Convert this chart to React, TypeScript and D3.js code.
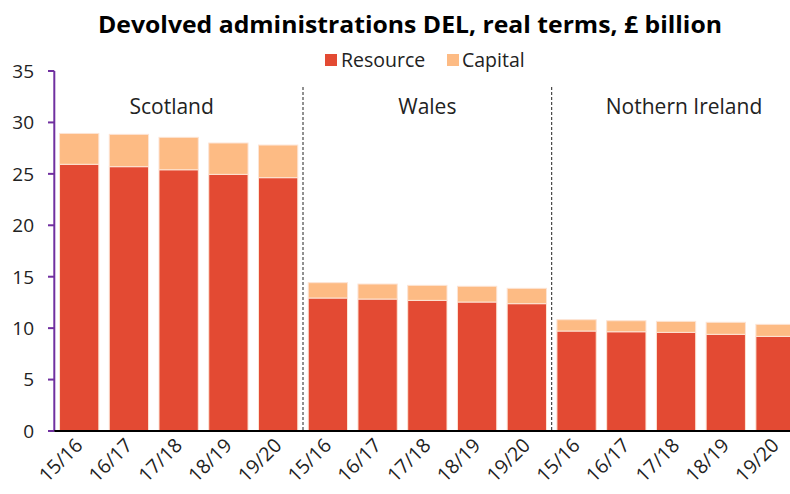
import React from "react";
import * as d3 from "d3";

const years = ["15/16", "16/17", "17/18", "18/19", "19/20"];
const regions = ["Scotland", "Wales", "Nothern Ireland"];
const resource = [25.93, 25.7, 25.4, 24.95, 24.63, 12.93, 12.83, 12.7, 12.54, 12.38, 9.72, 9.65, 9.59, 9.4, 9.2];
const capital = [3.0, 3.14, 3.15, 3.05, 3.17, 1.49, 1.46, 1.46, 1.53, 1.49, 1.1, 1.07, 1.07, 1.17, 1.17];
const yTicks = [0, 5, 10, 15, 20, 25, 30, 35];
const seriesNames = ["Resource", "Capital"];

const W = 790;
const H = 494;
const FONT = "'Open Sans', 'Noto Sans', sans-serif";
const COLORS = ["#E34A33", "#FDBB84"];

export default function App() {
  const idx = d3.range(resource.length);
  const x = d3
    .scaleBand<number>()
    .domain(idx)
    .range([54.3, 800.4])
    .paddingInner(0.21)
    .paddingOuter(0.105);
  const y = d3.scaleLinear().domain([0, 35]).range([431, 71]);
  const bw = x.bandwidth();
  const stack = d3.stack<number>().keys(["r", "c"]).value((i, k) => (k === "r" ? resource[i] : capital[i]));
  const series = stack(idx);
  const labelOffsets = [-7, 0, 8];

  return (
    <svg width={W} height={H} style={{ position: "absolute", left: 0, top: 0, background: "#fff" }} fontFamily={FONT}>
      <text x={410} y={33} textAnchor="middle" fontWeight="bold" fontSize={24} fill="#000" textLength={624} lengthAdjust="spacingAndGlyphs">
        Devolved administrations DEL, real terms, £ billion
      </text>
      {/* legend */}
      <g>
        <rect x={325} y={54} width={12} height={12} fill={COLORS[0]} />
        <text x={341} y={67} fontSize={19.5} fill="#222">{seriesNames[0]}</text>
        <rect x={447} y={54} width={12} height={12} fill={COLORS[1]} />
        <text x={462} y={67} fontSize={19.5} fill="#222">{seriesNames[1]}</text>
      </g>
      {/* bars */}
      {series.map((s, si) =>
        s.map((d, i) => (
          <rect
            key={`${si}-${i}`}
            x={x(i)}
            y={y(d[1])}
            width={bw}
            height={y(d[0]) - y(d[1])}
            fill={COLORS[si]}
            stroke="#fde4d4"
            strokeWidth={1}
          />
        ))
      )}
      {/* separators */}
      {[1, 2].map((g) => {
        const sx = ((x(g * 5 - 1) as number) + bw + (x(g * 5) as number)) / 2;
        return <line key={g} x1={sx} x2={sx} y1={87} y2={431} stroke="#222" strokeWidth={1} strokeDasharray="3,2" />;
      })}
      {/* region labels */}
      {regions.map((r, g) => {
        const cx = ((x(g * 5) as number) + (x(g * 5 + 4) as number) + bw) / 2 + labelOffsets[g];
        return (
          <text key={r} x={cx} y={114} textAnchor="middle" fontSize={21} fill="#222">
            {r}
          </text>
        );
      })}
      {/* y axis */}
      <line x1={54.3} x2={54.3} y1={y(35)} y2={y(0)} stroke="#7030A0" strokeWidth={2} />
      {yTicks.map((t) => (
        <g key={t}>
          <line x1={48} x2={54.3} y1={y(t)} y2={y(t)} stroke="#7030A0" strokeWidth={2} />
          <text x={34} y={y(t)} dy="0.36em" textAnchor="end" fontSize={19} fill="#222">
            {t}
          </text>
        </g>
      ))}
      {/* x axis */}
      <line x1={54.3} x2={W} y1={y(0)} y2={y(0)} stroke="#000" strokeWidth={2} />
      {idx.map((i) => {
        const cx = (x(i) as number) + bw / 2;
        return (
          <text
            key={i}
            transform={`translate(${cx - 5},${437}) rotate(-45)`}
            textAnchor="end"
            dy="0.7em"
            fontSize={19.5}
            fill="#222"
          >
            {years[i % 5]}
          </text>
        );
      })}
    </svg>
  );
}
